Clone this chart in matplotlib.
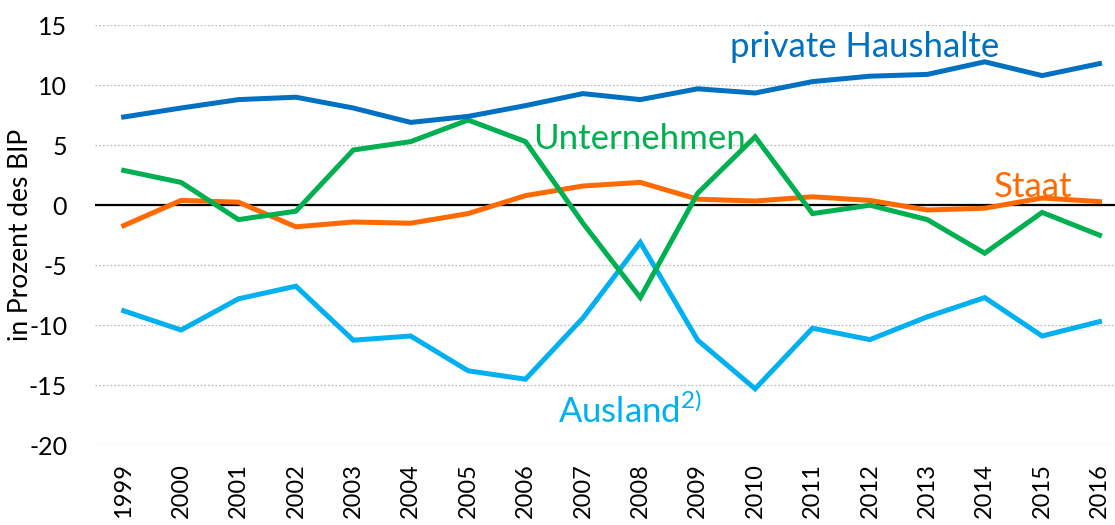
import numpy as np
import matplotlib
matplotlib.use("Agg")
import matplotlib.pyplot as plt

plt.rcParams['font.family'] = ['Lato', 'DejaVu Sans']
plt.rcParams['mathtext.fontset'] = 'custom'
plt.rcParams['mathtext.rm'] = 'Lato'
plt.rcParams['axes.unicode_minus'] = False

years = [str(y) for y in range(1999, 2017)]

haushalte = [7.35, 8.1, 8.8, 9.0, 8.1, 6.9, 7.4, 8.3, 9.3, 8.8, 9.7, 9.35, 10.3, 10.75, 10.9, 11.95, 10.8, 11.8]
unternehmen = [2.9, 1.9, -1.2, -0.5, 4.6, 5.3, 7.1, 5.3, -1.5, -7.7, 1.0, 5.7, -0.7, 0.0, -1.2, -4.0, -0.6, -2.5]
staat = [-1.7, 0.4, 0.25, -1.8, -1.4, -1.5, -0.7, 0.8, 1.6, 1.9, 0.5, 0.35, 0.7, 0.4, -0.4, -0.25, 0.6, 0.3]
ausland = [-8.8, -10.4, -7.8, -6.75, -11.25, -10.9, -13.8, -14.5, -9.4, -3.1, -11.25, -15.3, -10.25, -11.2, -9.3, -7.7, -10.9, -9.7]

c_haus = '#0070C0'
c_unt = '#00B050'
c_staat = '#FF6A00'
c_ausl = '#00B0F0'

fig = plt.figure(figsize=(11.15, 5.25), dpi=100)
ax = fig.add_axes([0.0852, 0.152, 0.9148, 0.8])

x = np.arange(len(years))
lw = 3.6
ax.plot(x, ausland, color=c_ausl, lw=lw, solid_joinstyle='miter', zorder=3)
ax.plot(x, staat, color=c_staat, lw=lw, solid_joinstyle='miter', zorder=4)
ax.plot(x, unternehmen, color=c_unt, lw=lw, solid_joinstyle='miter', zorder=5)
ax.plot(x, haushalte, color=c_haus, lw=lw, solid_joinstyle='miter', zorder=6)

ax.axhline(0, color='black', lw=1.6, zorder=2)

ax.set_ylim(-20, 15)
ax.set_xlim(-0.5, 17.27)
ax.set_yticks(range(-20, 16, 5))
ax.yaxis.grid(True, color='#BFBFBF', ls=(0, (1.5, 1.5)), lw=0.9)
ax.set_axisbelow(True)

ax.set_xticks(x)
ax.set_xticklabels(years, rotation=90, fontsize=17)
ax.tick_params(axis='y', labelsize=18, length=0, pad=20)
ax.tick_params(axis='x', length=0, pad=13)
for s in ax.spines.values():
    s.set_visible(False)

ax.set_ylabel('in Prozent des BIP', fontsize=19)
ax.yaxis.set_label_coords(-0.061, 0.5)

ax.text(10.57, 13.2, 'private Haushalte', color=c_haus, fontsize=25, va='center', ha='left')
ax.text(7.14, 5.5, 'Unternehmen', color=c_unt, fontsize=25, va='center', ha='left')
ax.text(15.16, 1.5, 'Staat', color=c_staat, fontsize=25, va='center', ha='left')
ax.text(7.56, -17.1, 'Ausland$^{\\mathrm{2)}}$', color=c_ausl, fontsize=25, va='center', ha='left')

fig.savefig('out.png', dpi=100)
